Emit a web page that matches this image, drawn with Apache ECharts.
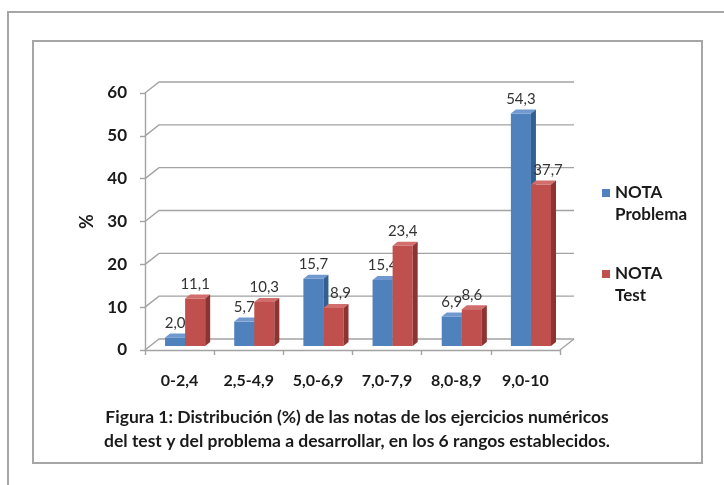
<!DOCTYPE html>
<html>
<head>
<meta charset="utf-8">
<script src="https://cdn.jsdelivr.net/npm/echarts@6/dist/echarts.min.js"></script>
<style>
  html, body { margin: 0; padding: 0; background: #ffffff; }
  #chart { width: 724px; height: 485px; }
</style>
</head>
<body>
<div id="chart"></div>
<script>
// Score ranges and share (%) of students in each range
var categories = ['0-2,4', '2,5-4,9', '5,0-6,9', '7,0-7,9', '8,0-8,9', '9,0-10'];
var notaProblema = [2.0, 5.7, 15.7, 15.4, 6.9, 54.3];
var notaTest = [11.1, 10.3, 8.9, 23.4, 8.6, 37.7];
var yTicks = [0, 10, 20, 30, 40, 50, 60];
var seriesNames = ['NOTA\nProblema', 'NOTA\nTest'];
var captionLines = [
  'Figura 1: Distribución (%) de las notas de los ejercicios numéricos',
  'del test y del problema a desarrollar, en los 6 rangos establecidos.'
];

var FONT = 'Lato, "Open Sans", sans-serif';
var GRID_COLOR = '#a3a3a3';
// depth of the floor / back wall
var WALL_DX = 14, WALL_DY = -11;
// depth of each bar and its offset into the floor
var BAR_DX = 5, BAR_DY = -4, BASE_DY = -4;

var palette = [
  { front: '#4f81bd', top: '#7099cf', side: '#345f91' },
  { front: '#c0504d', top: '#d16d6a', side: '#8d3331' }
];
var allSeries = [notaProblema, notaTest];

function fmt(v) { return v.toFixed(1).replace('.', ','); }

// Back-wall gridlines with their left-wall diagonals, plus the floor outline
function renderGrid(params, api) {
  var cs = params.coordSys;
  var xl = cs.x, xr = cs.x + cs.width;
  var y = api.coord([0, api.value(1)])[1];
  var lineStyle = { stroke: GRID_COLOR, lineWidth: 1.4, fill: null };
  var children = [{
    type: 'polyline',
    shape: { points: [[xl, y], [xl + WALL_DX, y + WALL_DY], [xr + WALL_DX, y + WALL_DY]] },
    style: lineStyle
  }];
  if (api.value(1) === 0) {
    children.push({
      type: 'polyline',
      shape: { points: [[xr, y], [xr + WALL_DX, y + WALL_DY]] },
      style: lineStyle
    });
  }
  return { type: 'group', children: children, silent: true };
}

function makeBarRenderer(s) {
  var c = palette[s];
  return function (params, api) {
    var i = api.value(0), v = api.value(1);
    var base = api.coord([i, 0]);
    var top = api.coord([i, v]);
    var band = api.size([1, 0])[0];
    var bw = band * 0.29;
    var pairCenter = base[0] + band * 0.08;
    var x1 = pairCenter - bw + s * bw, x2 = x1 + bw;
    var yBot = base[1] + BASE_DY, yTop = top[1] + BASE_DY;
    // keep the second label clear of a taller neighbouring bar
    var nudge = (s === 1 && allSeries[0][i] > v) ? 7 : 0;
    return {
      type: 'group',
      children: [
        { type: 'rect', shape: { x: x1, y: yTop, width: bw, height: yBot - yTop }, style: { fill: c.front } },
        { type: 'polygon', shape: { points: [[x1, yTop], [x2, yTop], [x2 + BAR_DX, yTop + BAR_DY], [x1 + BAR_DX, yTop + BAR_DY]] }, style: { fill: c.top } },
        { type: 'polygon', shape: { points: [[x2, yTop], [x2 + BAR_DX, yTop + BAR_DY], [x2 + BAR_DX, yBot + BAR_DY], [x2, yBot]] }, style: { fill: c.side } },
        { type: 'text', style: { x: (x1 + x2) / 2 + nudge, y: yTop + BAR_DY - 3, text: fmt(v), align: 'center', verticalAlign: 'bottom', fill: '#333333', font: '15px ' + FONT } }
      ]
    };
  };
}

var chart = echarts.init(document.getElementById('chart'), null, { renderer: 'canvas' });

chart.setOption({
  backgroundColor: '#ffffff',
  animation: false,
  title: {
    text: captionLines.join('\n'),
    left: 352,
    top: 400,
    textAlign: 'center',
    textStyle: { fontFamily: FONT, fontWeight: 'bold', fontSize: 17.5, lineHeight: 24, color: '#1a1a1a' }
  },
  graphic: [
    { type: 'rect', shape: { x: 8, y: 12, width: 800, height: 800 }, style: { fill: null, stroke: '#a6a6a6', lineWidth: 2 }, silent: true },
    { type: 'rect', shape: { x: 33, y: 41, width: 669, height: 422 }, style: { fill: null, stroke: '#a6a6a6', lineWidth: 2 }, silent: true }
  ],
  legend: {
    orient: 'vertical',
    left: 597,
    top: 155,
    itemWidth: 8,
    itemHeight: 8,
    itemGap: 15,
    icon: 'rect',
    data: seriesNames,
    formatter: function (name) { return '\n' + name; },
    textStyle: { fontFamily: FONT, fontWeight: 'bold', fontSize: 17, lineHeight: 22, color: '#1a1a1a' }
  },
  grid: { left: 145, right: 164, top: 93, bottom: 135, containLabel: false },
  xAxis: {
    type: 'category',
    data: categories,
    boundaryGap: true,
    axisLine: { show: true, lineStyle: { color: GRID_COLOR, width: 1.4 } },
    axisTick: { show: true, length: 5, lineStyle: { color: GRID_COLOR, width: 1.4 } },
    axisLabel: { margin: 23, fontFamily: FONT, fontWeight: 'bold', fontSize: 16, color: '#1a1a1a' },
    splitLine: { show: false }
  },
  yAxis: {
    type: 'value',
    min: 0,
    max: 60,
    interval: 10,
    name: '%',
    nameLocation: 'middle',
    nameGap: 47,
    nameRotate: 90,
    nameTextStyle: { fontFamily: FONT, fontWeight: 'bold', fontSize: 18, color: '#1a1a1a' },
    axisLine: { show: true, lineStyle: { color: GRID_COLOR, width: 1.4 } },
    axisTick: { show: true, length: 5, lineStyle: { color: GRID_COLOR, width: 1.4 } },
    axisLabel: { margin: 18, fontFamily: FONT, fontWeight: 'bold', fontSize: 17, color: '#1a1a1a' },
    splitLine: { show: false }
  },
  series: [
    {
      type: 'custom',
      name: 'grid',
      silent: true,
      z: 1,
      renderItem: renderGrid,
      encode: { x: 0, y: 1 },
      data: yTicks.map(function (t) { return [0, t]; })
    },
    {
      type: 'custom',
      name: seriesNames[0],
      z: 2,
      itemStyle: { color: palette[0].front },
      renderItem: makeBarRenderer(0),
      encode: { x: 0, y: 1 },
      data: notaProblema.map(function (v, i) { return [i, v]; })
    },
    {
      type: 'custom',
      name: seriesNames[1],
      z: 3,
      itemStyle: { color: palette[1].front },
      renderItem: makeBarRenderer(1),
      encode: { x: 0, y: 1 },
      data: notaTest.map(function (v, i) { return [i, v]; })
    }
  ]
});
</script>
</body>
</html>
